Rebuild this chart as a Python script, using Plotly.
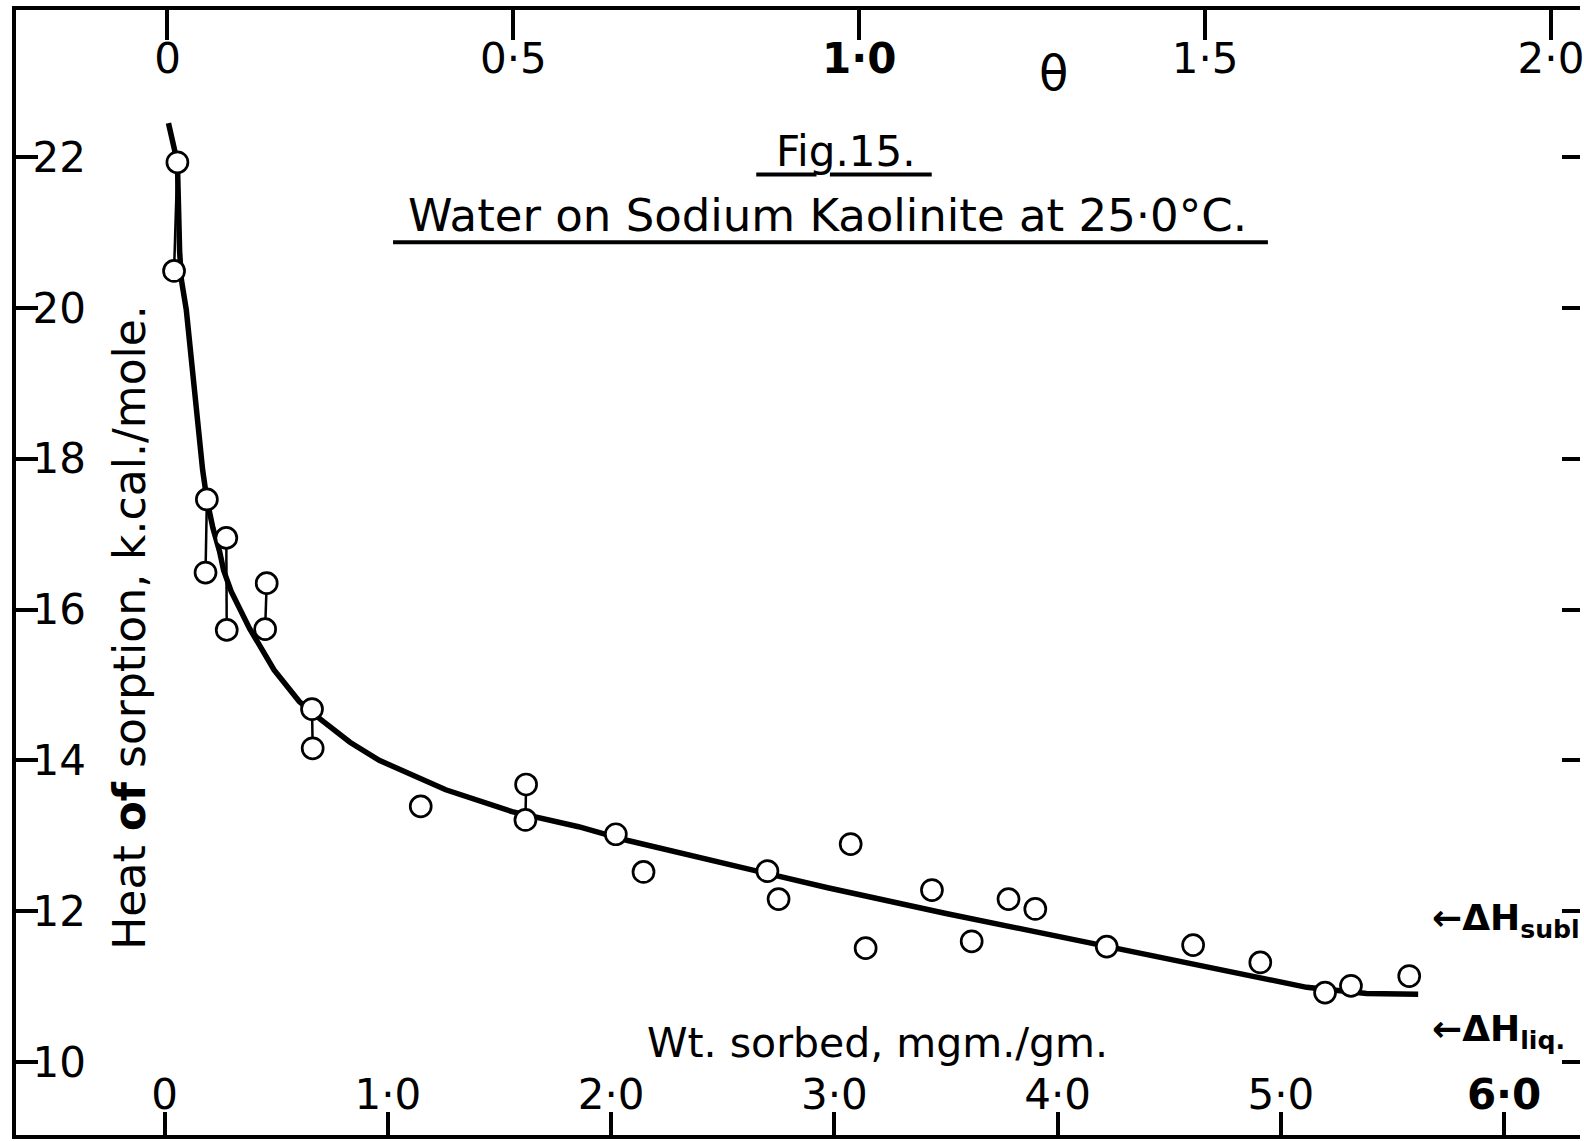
import plotly.graph_objects as go

# ---- data ----
wt_pts = [0.057, 0.042, 0.189, 0.183, 0.276, 0.278, 0.457, 0.450, 0.660, 0.663,
          1.147, 1.619, 1.616, 2.021, 2.145, 2.700, 2.750, 3.073, 3.140, 3.437,
          3.615, 3.780, 3.900, 4.220, 4.607, 4.908, 5.198, 5.314, 5.575]
heat_pts = [21.93, 20.49, 17.46, 16.49, 16.95, 15.73, 16.35, 15.74, 14.68, 14.16,
            13.39, 13.68, 13.21, 13.02, 12.52, 12.53, 12.16, 12.89, 11.51, 12.28,
            11.60, 12.16, 12.03, 11.53, 11.55, 11.32, 10.92, 11.01, 11.14]
tie_pairs = [(0, 1), (2, 3), (4, 5), (6, 7), (8, 9), (11, 12)]

curve_wt = [0.017, 0.057, 0.067, 0.075, 0.097, 0.13, 0.17, 0.189, 0.216, 0.246,
            0.264, 0.298, 0.38, 0.49, 0.603, 0.70, 0.83, 0.961, 1.259, 1.556,
            1.854, 2.07, 2.629, 2.77, 2.97, 3.5, 4.148, 4.29, 4.7, 5.116, 5.384, 5.615]
curve_heat = [22.45, 21.93, 20.75, 20.37, 19.97, 18.95, 17.85, 17.46, 17.08, 16.77,
              16.52, 16.24, 15.75, 15.2, 14.78, 14.54, 14.24, 14.0, 13.61, 13.32,
              13.12, 12.94, 12.55, 12.46, 12.31, 11.97, 11.57, 11.49, 11.24, 10.99, 10.91, 10.90]

wt_ticks = [0, 1, 2, 3, 4, 5, 6]
wt_ticktext = ["0", "1·0", "2·0", "3·0", "4·0", "5·0", "<b>6·0</b>"]
theta_ticks = [0, 0.5, 1.0, 1.5, 2.0]
theta_ticktext = ["0", "0·5", "<b>1·0</b>", "1·5", "2·0"]
heat_ticks = [10, 12, 14, 16, 18, 20, 22]
heat_ticktext = ["10", "12", "14", "16", "18", "20", "22"]

title_fig = "Fig.15."
title_main = "Water on Sodium Kaolinite at 25·0°C."
x_title = "Wt. sorbed, mgm./gm."
y_title = "Heat <b>of</b> sorption, k.cal./mole."
ref_sub = "←ΔH<sub>subl</sub>"
ref_liq = "←ΔH<sub>liq.</sub>"

FONT = "DejaVu Sans"
W, H = 1584, 1141
X_RANGE = [-0.666, 6.340]
THETA_RANGE = [-0.219, 2.042]
Y_RANGE = [9.032, 23.95]

fig = go.Figure()

# tie lines between paired determinations
tx, ty = [], []
for a, b in tie_pairs:
    tx += [wt_pts[a], wt_pts[b], None]
    ty += [heat_pts[a], heat_pts[b], None]
fig.add_trace(go.Scatter(x=tx, y=ty, mode="lines",
                         line=dict(color="black", width=2.5),
                         hoverinfo="skip", showlegend=False))

# smooth curve
fig.add_trace(go.Scatter(x=curve_wt, y=curve_heat, mode="lines",
                         line=dict(color="black", width=5.5),
                         hoverinfo="skip", showlegend=False))

# open circles
fig.add_trace(go.Scatter(x=wt_pts, y=heat_pts, mode="markers",
                         marker=dict(symbol="circle", size=21, color="white",
                                     line=dict(color="black", width=2.7)),
                         showlegend=False))

# helper traces so the secondary axes are drawn
fig.add_trace(go.Scatter(x=[1.0], y=[15], xaxis="x2", yaxis="y", mode="markers",
                         marker=dict(opacity=0), hoverinfo="skip", showlegend=False))
fig.add_trace(go.Scatter(x=[3.0], y=[15], xaxis="x", yaxis="y2", mode="markers",
                         marker=dict(opacity=0), hoverinfo="skip", showlegend=False))

tickfont = dict(family=FONT, size=42, color="black")

fig.update_layout(
    width=W, height=H, autosize=False,
    margin=dict(l=16, r=0, t=10, b=6),
    paper_bgcolor="white", plot_bgcolor="white",
    font=dict(family=FONT, color="black"),
    xaxis=dict(range=X_RANGE, tickvals=wt_ticks, ticktext=wt_ticktext,
               ticks="inside", ticklen=23, tickwidth=3.5, tickcolor="black",
               ticklabelposition="inside", tickfont=tickfont,
               ticklabeloverflow="allow",
               showline=True, linewidth=4, linecolor="black",
               showgrid=False, zeroline=False),
    xaxis2=dict(range=THETA_RANGE, overlaying="x", side="top",
                tickvals=theta_ticks, ticktext=theta_ticktext,
                ticks="inside", ticklen=30, tickwidth=3.5, tickcolor="black",
                ticklabelposition="inside", tickfont=tickfont,
                ticklabeloverflow="allow", ticklabelstandoff=9,
                showline=True, linewidth=4, linecolor="black",
                showgrid=False, zeroline=False),
    yaxis=dict(range=Y_RANGE, tickvals=heat_ticks, ticktext=heat_ticktext,
               ticks="inside", ticklen=22, tickwidth=3.5, tickcolor="black",
               ticklabelposition="inside", tickfont=tickfont,
               showline=True, linewidth=4, linecolor="black",
               showgrid=False, zeroline=False),
    yaxis2=dict(range=Y_RANGE, overlaying="y", side="right",
                tickvals=heat_ticks, showticklabels=False,
                ticks="inside", ticklen=18, tickwidth=3.5, tickcolor="black",
                showline=False, showgrid=False, zeroline=False),
)

ann = [
    dict(text=y_title, x=-0.156, y=15.77, textangle=-90, size=44),
    dict(text=x_title, x=3.195, y=10.25, size=41),
    dict(text="θ", x=3.98, y=23.11, size=48),
    dict(text=title_fig, x=3.05, y=22.07, size=42),
    dict(text=title_main, x=2.97, y=21.22, size=45),
    dict(text="<b>" + ref_sub + "</b>", x=5.67, y=11.87, xanchor="left", size=36),
    dict(text="<b>" + ref_liq + "</b>", x=5.67, y=10.41, xanchor="left", size=36),
]
for a in ann:
    a.setdefault("xanchor", "center")
    size = a.pop("size")
    fig.add_annotation(xref="x", yref="y", showarrow=False, yanchor="middle",
                       font=dict(family=FONT, color="black", size=size), **a)

# underlines
for x0, x1, yy in [(2.65, 2.92, 21.77), (2.98, 3.436, 21.77), (1.023, 4.942, 20.87)]:
    fig.add_shape(type="line", xref="x", yref="y", x0=x0, x1=x1, y0=yy, y1=yy,
                  line=dict(color="black", width=4))

fig.write_html("out.html")
